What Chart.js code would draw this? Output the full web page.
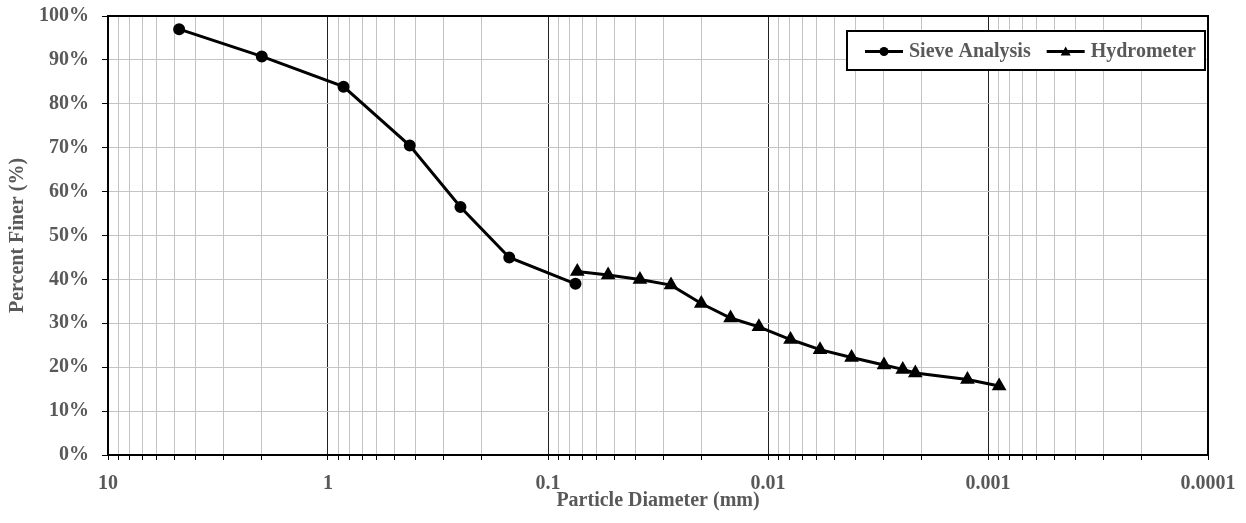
<!DOCTYPE html>
<html><head><meta charset="utf-8">
<script src="https://cdn.jsdelivr.net/npm/chart.js@4.4.1/dist/chart.umd.min.js"></script>
<style>html,body{margin:0;padding:0;background:#fff}#wrap{width:1246px;height:523px}</style>
</head><body><div id="wrap"><canvas id="c" width="1246" height="523"></canvas></div>
<script>
const seriesNames = ['Sieve Analysis', 'Hydrometer'];
const sieveSize = [4.75, 2.0, 0.85, 0.425, 0.25, 0.15, 0.075];
const sieveFiner = [97.0, 90.8, 83.9, 70.5, 56.5, 45.0, 39.0];
const hydroSize = [0.0736, 0.0533, 0.0382, 0.0276, 0.0201, 0.0148, 0.0110, 0.0079, 0.0058, 0.00417, 0.00297, 0.00244, 0.00214, 0.00124, 0.00089];
const hydroFiner = [41.8, 41.0, 40.0, 38.7, 34.5, 31.2, 29.2, 26.3, 24.0, 22.2, 20.5, 19.5, 18.7, 17.2, 15.7];
const xTickLabels = ['10', '1', '0.1', '0.01', '0.001', '0.0001'];
const xDecadeValues = [10, 1, 0.1, 0.01, 0.001, 0.0001];
const yTickLabels = ['0%','10%','20%','30%','40%','50%','60%','70%','80%','90%','100%'];

const FONT = '"Liberation Serif", "Times New Roman", serif';
const TXT = '#595959';

function isDecade(v) {
  const l = Math.log10(v);
  return Math.abs(l - Math.round(l)) < 1e-9;
}

const framePlugin = {
  id: 'frame',
  afterDraw(chart) {
    const ctx = chart.ctx, ca = chart.chartArea;
    ctx.save();
    ctx.strokeStyle = '#000';
    ctx.lineWidth = 2;
    ctx.strokeRect(ca.left, ca.top, ca.right - ca.left, ca.bottom - ca.top);
    // legend
    const bx = ca.right - 361, by = ca.top + 15, bw = 358, bh = 39;
    ctx.fillStyle = '#fff';
    ctx.fillRect(bx, by, bw, bh);
    ctx.strokeRect(bx, by, bw, bh);
    ctx.font = 'bold 20px ' + FONT;
    ctx.textBaseline = 'middle';
    const cy = by + bh / 2 + 1;
    let x = bx + 18;
    chart.data.datasets.forEach((ds, i) => {
      ctx.strokeStyle = '#000';
      ctx.lineWidth = 3;
      ctx.beginPath(); ctx.moveTo(x, cy); ctx.lineTo(x + 38, cy); ctx.stroke();
      ctx.fillStyle = '#000';
      const mx = x + 19;
      ctx.beginPath();
      if (ds.pointStyle === 'triangle') {
        ctx.moveTo(mx, cy - 5); ctx.lineTo(mx + 5, cy + 4); ctx.lineTo(mx - 5, cy + 4); ctx.closePath();
      } else {
        ctx.arc(mx, cy, 4.5, 0, Math.PI * 2);
      }
      ctx.fill();
      ctx.fillStyle = TXT;
      const tx = x + 44;
      ctx.fillText(ds.label, tx, cy);
      x = tx + ctx.measureText(ds.label).width + 16;
    });
    ctx.restore();
  }
};

new Chart(document.getElementById('c'), {
  type: 'line',
  data: {
    datasets: [
      {
        label: seriesNames[0],
        data: sieveSize.map((s, i) => ({ x: s, y: sieveFiner[i] })),
        borderColor: '#000', backgroundColor: '#000', borderWidth: 3,
        pointStyle: 'circle', pointRadius: 4.5, pointHoverRadius: 4.5,
        tension: 0
      },
      {
        label: seriesNames[1],
        data: hydroSize.map((s, i) => ({ x: s, y: hydroFiner[i] })),
        borderColor: '#000', backgroundColor: '#000', borderWidth: 3,
        pointStyle: 'triangle', pointRadius: 5.5, pointHoverRadius: 5.5,
        tension: 0
      }
    ]
  },
  options: {
    responsive: false,
    animation: false,
    events: [],
    layout: { padding: { top: 16, right: 38, left: 0, bottom: 0 } },
    plugins: { legend: { display: false }, tooltip: { enabled: false } },
    scales: {
      x: {
        type: 'logarithmic',
        reverse: true,
        min: 0.0001,
        max: 10,
        afterBuildTicks(scale) {
          const t = [];
          for (let e = -4; e <= 1; e++) {
            for (let k = 1; k <= 9; k++) {
              const v = parseFloat((k * Math.pow(10, e)).toPrecision(6));
              if (v >= 0.0001 && v <= 10) t.push({ value: v });
              if (e === 1) break;
            }
          }
          scale.ticks = t;
        },
        afterFit(scale) { scale.height = 68; scale.paddingLeft = 0; scale.paddingRight = 0; },
        ticks: {
          autoSkip: false, maxRotation: 0, minRotation: 0, padding: 12,
          color: TXT, font: { family: FONT, size: 20, weight: 'bold' },
          callback(v) {
            if (!isDecade(v)) return '';
            const idx = xDecadeValues.findIndex(d => Math.abs(Math.log10(d) - Math.log10(v)) < 1e-9);
            return idx >= 0 ? xTickLabels[idx] : '';
          }
        },
        grid: {
          color: ctx => (ctx.tick && isDecade(ctx.tick.value)) ? '#222' : '#c4c4c4',
          lineWidth: 1,
          tickColor: '#000',
          tickLength: 5,
          drawTicks: true
        },
        border: { display: true, color: '#000', width: 2 },
        title: {
          display: true, text: 'Particle Diameter (mm)', color: TXT,
          font: { family: FONT, size: 20, weight: 'bold' },
          padding: { top: 0, bottom: 10 }
        }
      },
      y: {
        min: 0, max: 100,
        afterFit(scale) { scale.width = 108; scale.paddingTop = 0; scale.paddingBottom = 0; },
        ticks: {
          stepSize: 10, padding: 13, color: TXT,
          font: { family: FONT, size: 20, weight: 'bold' },
          callback(v) { return yTickLabels[Math.round(v / 10)]; }
        },
        grid: { color: '#c4c4c4', lineWidth: 1, tickColor: '#000', tickLength: 6 },
        border: { display: true, color: '#000', width: 2 },
        title: {
          display: true, text: 'Percent Finer (%)', color: TXT,
          font: { family: FONT, size: 20, weight: 'bold' },
          padding: { top: 6, bottom: 0 }
        }
      }
    }
  },
  plugins: [framePlugin]
});
</script></body></html>
